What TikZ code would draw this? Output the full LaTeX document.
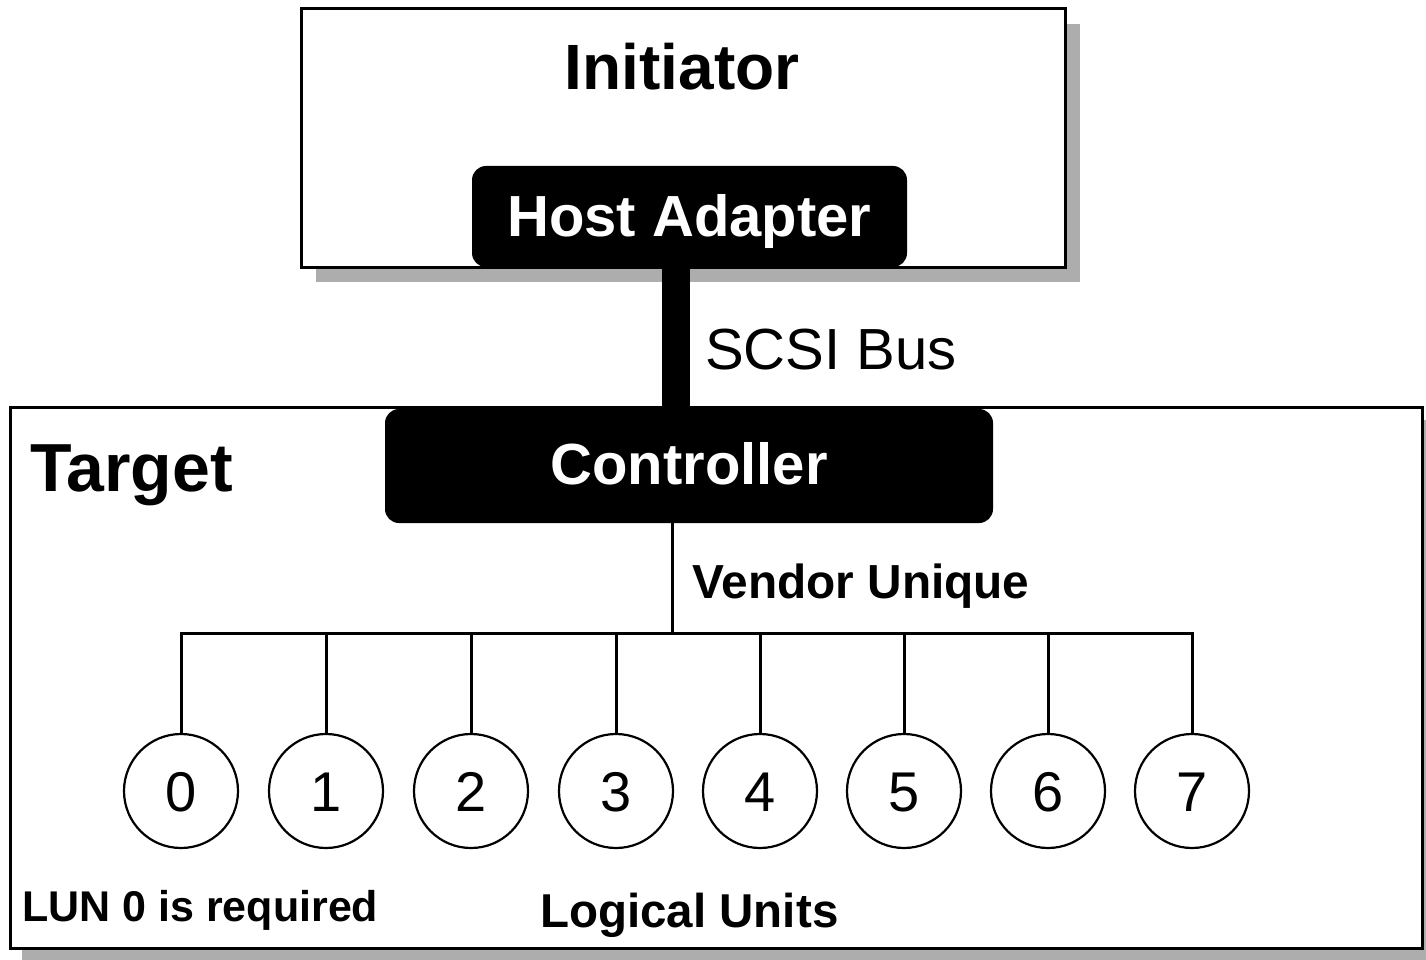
\documentclass[tikz,border=0pt]{standalone}
\usepackage{fontspec}
\setmainfont{Liberation Sans}
\begin{document}
\begin{tikzpicture}[x=1pt,y=-1pt,
  box/.style={draw=black,line width=3pt,fill=white,inner sep=0pt},
  blackbox/.style={fill=black,rounded corners=14pt,inner sep=0pt},
  shadowfill/.style={fill=black!32},
  lun/.style={circle,draw=black,line width=2.2pt,fill=white,minimum size=114pt,inner sep=0pt},
  conn/.style={line width=3pt},
  lbl/.style={inner sep=0pt,font=\bfseries\fontsize{48}{50}\selectfont}]
\useasboundingbox (0,0) rectangle (1426,960);
% shadows
\fill[shadowfill] (316,24) rectangle (1080,282);
\fill[shadowfill] (22,420) rectangle (1426,960);
% boxes
\node[box,minimum width=764pt,minimum height=258pt] (init) at (683,138) {};
\node[box,minimum width=1412pt,minimum height=541pt] (target) at (716,677.5) {};
% bus
\coordinate (busx) at (676,300);
\node[blackbox,minimum width=435pt,minimum height=101pt] (ha) at (689.5,216.5) {};
\node[blackbox,minimum width=608pt,minimum height=114pt] (ctrl) at (689,466) {};
\draw[line width=28pt] (ha.south -| busx) -- (ctrl.north -| busx);
% texts
\node[inner sep=0pt,anchor=base,font=\bfseries\fontsize{64}{66}\selectfont] (tinit) at (682,90) {Initiator};
\node[inner sep=0pt,anchor=base,text=white,font=\bfseries\fontsize{58}{60}\selectfont] (tha) at (689.5,236) {Host Adapter};
\node[inner sep=0pt,anchor=base,text=white,font=\bfseries\fontsize{58}{60}\selectfont] (tctrl) at (689,484) {Controller};
\node[inner sep=0pt,anchor=base west,font=\fontsize{58}{60}\selectfont] (tbus) at (705,369) {SCSI Bus};
\node[inner sep=0pt,anchor=base west,font=\bfseries\fontsize{68}{70}\selectfont] (ttarget) at (30,491) {Target};
\node[lbl,anchor=base west,font=\bfseries\fontsize{47.8}{50}\selectfont] (tvend) at (692,598) {Vendor Unique};
\node[lbl,anchor=base west,font=\bfseries\fontsize{43}{45}\selectfont] (tlun) at (22,921) {LUN 0 is required};
\node[lbl,anchor=base west,font=\bfseries\fontsize{47.5}{50}\selectfont] (tlog) at (540,927) {Logical Units};
% logical units
\foreach \i/\x in {0/181,1/326,2/471,3/616,4/760,5/904,6/1048,7/1192}{
  \node[lun] (l\i) at (\x,791) {};
  \node[inner sep=0pt,anchor=base,font=\fontsize{56}{58}\selectfont] (d\i) at (\x,811) {\i};
}
\coordinate (vj) at (672,633);
\draw[conn] (ctrl.south -| vj) -- (vj);
\draw[conn] (l0.north) -- (l0.north |- vj) -- (l7.north |- vj) -- (l7.north);
\foreach \i in {1,...,6}{
  \draw[conn] (l\i.north) -- (l\i.north |- vj);
}
\end{tikzpicture}
\end{document}
